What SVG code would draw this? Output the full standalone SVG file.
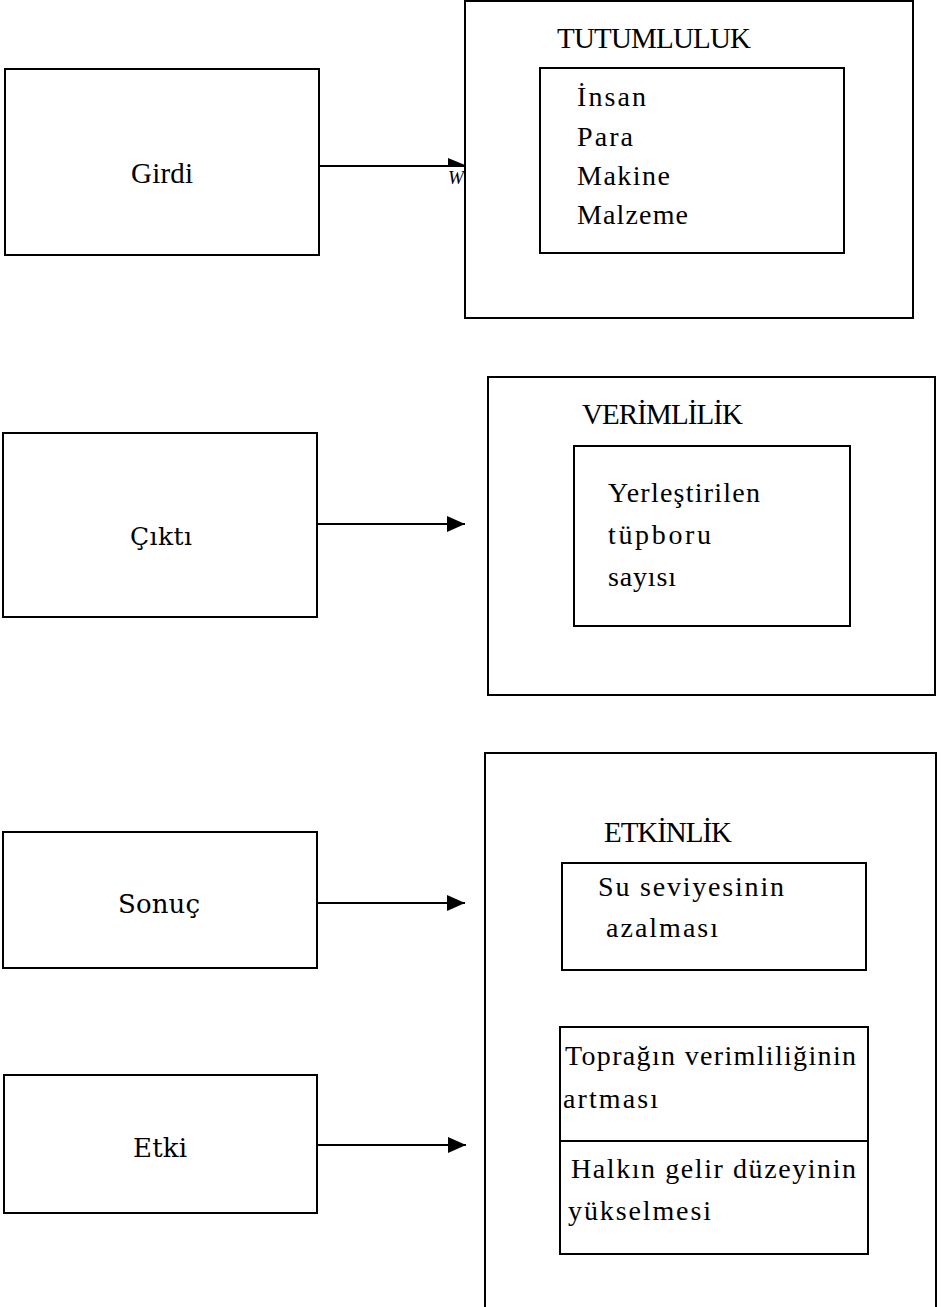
<svg xmlns="http://www.w3.org/2000/svg" width="947" height="1307" viewBox="0 0 947 1307">
  <style>
    .box { fill: none; stroke: #000; stroke-width: 2; }
    .link { fill: none; stroke: #000; stroke-width: 2; }
    .tms { font-family: "Liberation Serif", "Times New Roman", serif; fill: #000; }
    .sch { font-family: "DejaVu Serif", serif; fill: #000; }
    .head { font-size: 29px; }
    .item { font-size: 28px; }
  </style>
  <defs>
    <marker id="arrow" viewBox="0 0 18 16" refX="18" refY="8" markerWidth="18" markerHeight="16" markerUnits="userSpaceOnUse" orient="auto">
      <path d="M0,0 L18,8 L0,16 Z" fill="#000"/>
    </marker>
  </defs>

  <rect width="947" height="1307" fill="#fff"/>

  <!-- left column: input / output / outcome / impact -->
  <g id="girdi">
    <rect class="box" x="5" y="69" width="314" height="186"/>
    <text class="tms" x="131" y="183" font-size="29" textLength="62">Girdi</text>
  </g>
  <g id="cikti">
    <rect class="box" x="3" y="433" width="314" height="184"/>
    <text class="sch" x="130" y="545" font-size="25" textLength="62">Çıktı</text>
  </g>
  <g id="sonuc">
    <rect class="box" x="3" y="832" width="314" height="136"/>
    <text class="sch" x="118" y="913" font-size="26" textLength="82">Sonuç</text>
  </g>
  <g id="etki">
    <rect class="box" x="4" y="1075" width="313" height="138"/>
    <text class="sch" x="133" y="1157" font-size="26" textLength="54">Etki</text>
  </g>

  <!-- right column: economy -->
  <g id="tutumluluk">
    <rect class="box" x="465" y="1" width="448" height="317"/>
    <text class="tms head" x="557" y="48" textLength="194">TUTUMLULUK</text>
    <rect class="box" x="540" y="68" width="304" height="185"/>
    <text class="tms item" x="577" y="106" textLength="69">İnsan</text>
    <text class="tms item" x="577" y="146" textLength="56">Para</text>
    <text class="tms item" x="577" y="185" textLength="93">Makine</text>
    <text class="tms item" x="577" y="224" textLength="111">Malzeme</text>
  </g>

  <!-- right column: efficiency -->
  <g id="verimlilik">
    <rect class="box" x="488" y="377" width="447" height="318"/>
    <text class="tms head" x="582" y="424" textLength="161">VERİMLİLİK</text>
    <rect class="box" x="574" y="446" width="276" height="180"/>
    <text class="tms item" x="608" y="502" textLength="152">Yerleştirilen</text>
    <text class="tms item" x="608" y="544" textLength="103">tüpboru</text>
    <text class="tms item" x="608" y="586" textLength="68">sayısı</text>
  </g>

  <!-- right column: effectiveness (frame runs off the bottom edge) -->
  <g id="etkinlik">
    <path class="box" d="M485,1307 V753 H936 V1307"/>
    <text class="tms head" x="604" y="842" textLength="128">ETKİNLİK</text>
    <rect class="box" x="562" y="863" width="304" height="107"/>
    <text class="tms item" x="598" y="896" textLength="186">Su  seviyesinin</text>
    <text class="tms item" x="606" y="937" textLength="112">azalması</text>
    <rect class="box" x="560" y="1027" width="308" height="227"/>
    <line class="box" x1="560" y1="1141" x2="868" y2="1141"/>
    <text class="tms item" x="565" y="1065" textLength="291">Toprağın verimliliğinin</text>
    <text class="tms item" x="563" y="1108" textLength="95">artması</text>
    <text class="tms item" x="571" y="1178" textLength="285">Halkın gelir düzeyinin</text>
    <text class="tms item" x="568" y="1220" textLength="143">yükselmesi</text>
  </g>

  <!-- connectors -->
  <g id="connectors">
    <line class="link" x1="319" y1="166" x2="465" y2="166"/>
    <path d="M448,158 L465,165 L448,166 Z" fill="#000"/>
    <text class="tms" x="448" y="184" font-size="19" font-style="italic" textLength="16">W</text>
    <line class="link" x1="317" y1="524" x2="465" y2="524" marker-end="url(#arrow)"/>
    <line class="link" x1="317" y1="903" x2="465" y2="903" marker-end="url(#arrow)"/>
    <line class="link" x1="317" y1="1145" x2="466" y2="1145" marker-end="url(#arrow)"/>
  </g>
</svg>
